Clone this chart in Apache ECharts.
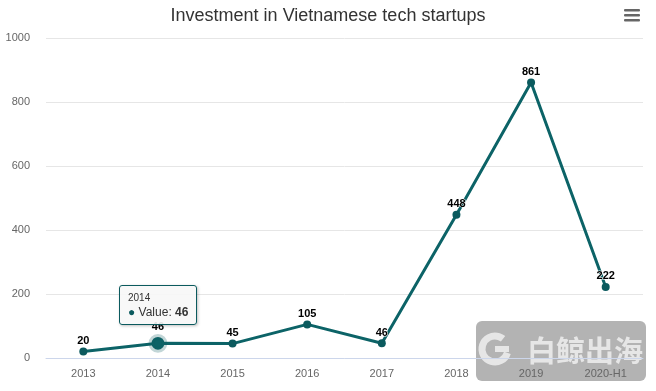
<!DOCTYPE html>
<html><head><meta charset="utf-8">
<script src="https://cdn.jsdelivr.net/npm/echarts@6/dist/echarts.min.js"></script>
<style>html,body{margin:0;padding:0;background:#fff}#c{width:656px;height:391px}</style>
</head><body><div id="c"></div>
<script>
const categories = ['2013','2014','2015','2016','2017','2018','2019','2020-H1'];
const values = [20, 46, 45, 105, 46, 448, 861, 222];
const yTicks = [0, 200, 400, 600, 800, 1000];
const titleText = 'Investment in Vietnamese tech startups';
const seriesName = 'Value';
const lineColor = '#0b5a5e';

const labelStyle = {show: true, position: 'top', distance: 1, color: '#000', fontWeight: 'bold', fontSize: 11,
  fontFamily: 'Liberation Sans, Arial', textBorderColor: '#fff', textBorderWidth: 1};

const chart = echarts.init(document.getElementById('c'), null, {renderer:'canvas'});
chart.setOption({
  animation: false,
  title: {text: titleText, left: 'center', top: 2,
    textStyle: {fontFamily: 'Liberation Sans, Arial', fontSize: 18, fontWeight: 'normal', color: '#333'}},
  grid: {left: 46, right: 13, top: 38, bottom: 33},
  tooltip: {
    trigger: 'item', alwaysShowContent: true,
    backgroundColor: 'rgba(247,247,247,0.9)', borderColor: lineColor, borderWidth: 1, borderRadius: 3,
    padding: [4, 8], extraCssText: 'box-shadow:1px 1px 3px rgba(0,0,0,0.25);',
    position: function (point, params, dom, rect, size) {
      return [point[0] - size.contentSize[0] / 2, point[1] - size.contentSize[1] - 18];
    },
    formatter: function (p) {
      return '<div style="font-family:Liberation Sans,Arial;color:#333;line-height:15px">' +
        '<div style="font-size:10px">' + p.name + '</div>' +
        '<div style="font-size:12px"><span style="color:' + lineColor + '">\u25CF</span> ' + seriesName + ': <b>' + p.value + '</b></div></div>';
    }
  },
  xAxis: {
    type: 'category', data: categories, boundaryGap: true,
    axisLine: {lineStyle: {color: '#ccd6eb'}}, axisTick: {show: false},
    axisLabel: {color: '#666', fontSize: 11, fontFamily: 'Liberation Sans, Arial', margin: 10}
  },
  yAxis: {
    type: 'value', min: yTicks[0], max: yTicks[yTicks.length - 1], interval: 200,
    axisLine: {show: false}, axisTick: {show: false},
    splitLine: {lineStyle: {color: '#e6e6e6'}},
    axisLabel: {color: '#666', fontSize: 11, fontFamily: 'Liberation Sans, Arial', margin: 16,
      formatter: function (v) { return String(v); }}
  },
  series: [{
    name: seriesName, type: 'line', data: values, z: 3,
    symbol: 'circle', symbolSize: 8,
    lineStyle: {color: lineColor, width: 3},
    itemStyle: {color: lineColor},
    label: labelStyle,
    emphasis: {scale: 1.6, label: labelStyle, itemStyle: {borderColor: 'rgba(11,90,94,0.25)', borderWidth: 6}}
  }],
  graphic: [
    {type: 'group', left: 624, top: 9, children: [
      {type: 'rect', shape: {x: 0, y: 0, width: 16, height: 2.5, r: 1}, style: {fill: '#666'}},
      {type: 'rect', shape: {x: 0, y: 5, width: 16, height: 2.5, r: 1}, style: {fill: '#666'}},
      {type: 'rect', shape: {x: 0, y: 10, width: 16, height: 2.5, r: 1}, style: {fill: '#666'}}
    ]},
    {type: 'group', left: 476, top: 321, z: -10, silent: true, children: [
      {type: 'rect', z: -10, shape: {x: 0, y: 0, width: 170, height: 60, r: 6}, style: {fill: '#b3b3b3'}},
      {type: 'arc', z: -9, shape: {cx: 19, cy: 28, r: 13, startAngle: 0.3, endAngle: 2 * Math.PI - 0.9}, style: {fill: 'none', stroke: '#e6e6e6', lineWidth: 7}},
      {type: 'rect', z: -9, shape: {x: 19, y: 25, width: 14, height: 6}, style: {fill: '#e6e6e6'}},
      {type: 'text', z: -9, style: {x: 51, y: 30, text: '白鲸出海', fontSize: 29, fontWeight: 'bold', verticalAlign: 'middle',
        fontFamily: 'Noto Sans CJK SC', fill: '#e6e6e6'}}
    ]}
  ]
});
chart.dispatchAction({type: 'showTip', seriesIndex: 0, dataIndex: 1});
chart.dispatchAction({type: 'highlight', seriesIndex: 0, dataIndex: 1});
</script></body></html>
